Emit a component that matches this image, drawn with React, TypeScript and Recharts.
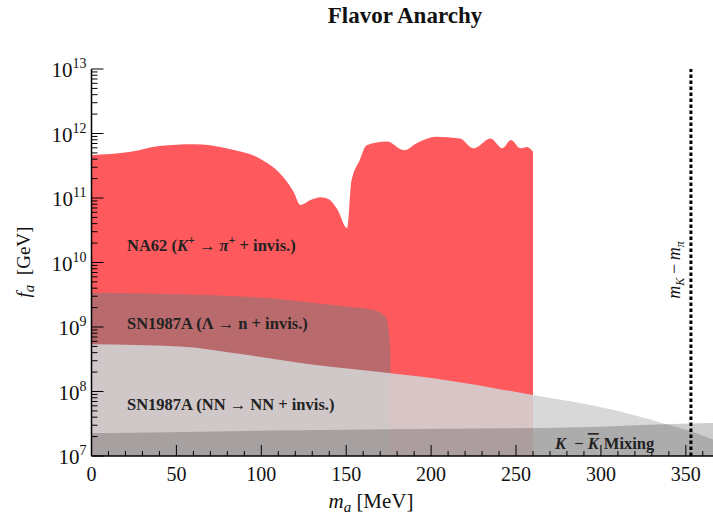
import React from "react"
import { ComposedChart, Area, XAxis, YAxis, ReferenceLine } from "recharts"

// NA62 (K+ -> pi+ + invis.) upper edge; mass in MeV, f_a in GeV
const na62Mass = [0, 23, 40, 60, 82, 99, 111, 119, 123, 129, 135, 140, 145, 150.5, 153, 158, 162, 174, 184, 192, 203, 217, 225, 235, 242, 247, 252.5, 256.5, 260]
const na62Fa = [4.6e11, 5.2e11, 6.4e11, 6.8e11, 5.7e11, 4.1e11, 2.4e11, 1.25e11, 7.8e10, 9.3e10, 1.03e11, 9.5e10, 6.5e10, 3.4e10, 1.8e11, 3.9e11, 6.6e11, 7.5e11, 5.5e11, 7.2e11, 8.9e11, 8.4e11, 5.9e11, 8.4e11, 5.9e11, 7.9e11, 5.9e11, 6.2e11, 5.2e11]

// SN1987A (Lambda -> n + invis.)
const lambdaMass = [0, 32, 72, 111, 131, 150, 166, 173, 175, 176]
const lambdaFa = [3.4e9, 3.3e9, 3.1e9, 2.7e9, 2.36e9, 2.07e9, 1.84e9, 1.45e9, 9e8, 4e8]

// SN1987A (NN -> NN + invis.)
const nnMass = [0, 52, 91, 131, 170, 209, 260, 307, 337, 351, 366]
const nnFa = [5.4e8, 5.0e8, 3.7e8, 2.6e8, 2.0e8, 1.5e8, 8.8e7, 5.2e7, 3.2e7, 2.5e7, 1.8e7]

// K - Kbar mixing
const mixMass = [0, 90, 176, 287, 353, 366]
const mixFa = [2.25e7, 2.45e7, 2.6e7, 2.8e7, 3.2e7, 3.25e7]

const mKminusMpi = 353

const xTicks = Array.from({ length: 37 }, (_, i) => i * 10)
const yTicks: number[] = []
for (let e = 7; e <= 12; e++) for (let k = 1; k <= 9; k++) yTicks.push(k * Math.pow(10, e))
yTicks.push(1e13)

// merge the separate curves into one table keyed by mass
const rows = new Map<number, any>()
function addSeries(key: string, xs: number[], ys: number[]) {
  xs.forEach((x, i) => {
    const r = rows.get(x) ?? { mass: x }
    r[key] = ys[i]
    rows.set(x, r)
  })
}
addSeries("na62", na62Mass, na62Fa)
addSeries("lambda", lambdaMass, lambdaFa)
addSeries("nn", nnMass, nnFa)
addSeries("mix", mixMass, mixFa)
const data = Array.from(rows.values()).sort((a, b) => a.mass - b.mass)

const font = "'Liberation Serif', 'Times New Roman', serif"

function YTick(props: any) {
  const { x, y, payload } = props
  const v = payload.value
  const e = Math.floor(Math.log10(v) + 1e-9)
  const major = Math.abs(v / Math.pow(10, e) - 1) < 1e-6
  return (
    <g>
      <line x1={x} x2={x + (major ? 12 : 6)} y1={y} y2={y} stroke="#000" strokeWidth={1} />
      {major && (
        <text x={x - 5} y={y + 8} textAnchor="end" fontFamily={font} fontSize={21} fill="#111">
          <tspan>10</tspan>
          <tspan dy={-9} fontSize={14}>{e}</tspan>
        </text>
      )}
    </g>
  )
}

function XTickBottom(props: any) {
  const { x, y, payload } = props
  const major = payload.value % 50 === 0
  return (
    <g>
      <line x1={x} x2={x} y1={y} y2={y - (major ? 11 : 5)} stroke="#000" strokeWidth={1} />
      {major && (
        <text x={x} y={y + 25} textAnchor="middle" fontFamily={font} fontSize={20} fill="#111">
          {payload.value}
        </text>
      )}
    </g>
  )
}

function XTickTop(props: any) {
  const { x, y, payload } = props
  const major = payload.value % 50 === 0
  return <line x1={x} x2={x} y1={y} y2={y + (major ? 9 : 5)} stroke="#000" strokeWidth={1} />
}

export default function App() {
  const labelStyle = { fontFamily: font, fontSize: 16.5, fontWeight: "bold" as const, fill: "#222" }
  return (
    <div style={{ position: "absolute", left: 0, top: 0, width: 713, height: 516, background: "#fff" }}>
      <ComposedChart width={713} height={516} data={data} margin={{ top: 69, right: 0, bottom: 0, left: 0 }}>
        <XAxis
          dataKey="mass"
          type="number"
          domain={[0, 366]}
          allowDataOverflow
          ticks={xTicks}
          interval={0}
          height={60}
          tickSize={0}
          tickMargin={0}
          tickLine={false}
          axisLine={{ stroke: "#000", strokeWidth: 1.5 }}
          tick={(p: any) => <XTickBottom {...p} />}
        />
        <XAxis
          xAxisId="top"
          orientation="top"
          dataKey="mass"
          type="number"
          domain={[0, 366]}
          allowDataOverflow
          ticks={xTicks}
          interval={0}
          height={0}
          tickSize={0}
          tickMargin={0}
          tickLine={false}
          axisLine={{ stroke: "#000", strokeWidth: 1.5 }}
          tick={(p: any) => <XTickTop {...p} />}
        />
        <YAxis
          type="number"
          scale="log"
          domain={[1e7, 1e13]}
          allowDataOverflow
          ticks={yTicks}
          interval={0}
          width={91.5}
          tickSize={0}
          tickMargin={0}
          tickLine={false}
          axisLine={{ stroke: "#000", strokeWidth: 1.5 }}
          tick={(p: any) => <YTick {...p} />}
        />
        <Area dataKey="na62" type="monotone" baseValue={1e7} connectNulls stroke="none" fill="#fe5a5e" fillOpacity={1} isAnimationActive={false} />
        <Area dataKey="lambda" type="monotone" baseValue={1e7} connectNulls stroke="none" fill="#787878" fillOpacity={0.52} isAnimationActive={false} />
        <Area dataKey="nn" type="monotone" baseValue={1e7} connectNulls stroke="none" fill="#d3d3d3" fillOpacity={0.89} isAnimationActive={false} />
        <Area dataKey="mix" type="monotone" baseValue={1e7} connectNulls stroke="none" fill="#000" fillOpacity={0.2} isAnimationActive={false} />
        <ReferenceLine x={mKminusMpi} stroke="#000" strokeWidth={3} strokeDasharray="3.5 2.5" />
      </ComposedChart>
      <svg width={713} height={516} style={{ position: "absolute", left: 0, top: 0, pointerEvents: "none" }}>
        <text x={405} y={23} textAnchor="middle" fontFamily={font} fontSize={23} fontWeight="bold" fill="#111">
          Flavor Anarchy
        </text>
        <text transform="translate(30,262) rotate(-90)" textAnchor="middle" fontFamily={font} fontSize={19} fill="#111">
          <tspan fontStyle="italic">f</tspan>
          <tspan fontStyle="italic" dy={4} fontSize={15}>a</tspan>
          <tspan dy={-4}>{"\u00a0\u00a0[GeV]"}</tspan>
        </text>
        <text x={371} y={508} textAnchor="middle" fontFamily={font} fontSize={21} fill="#111">
          <tspan fontStyle="italic">m</tspan>
          <tspan fontStyle="italic" dy={4} fontSize={15}>a</tspan>
          <tspan dy={-4}>{"\u00a0[MeV]"}</tspan>
        </text>
        <text transform="translate(680,270) rotate(-90)" textAnchor="middle" fontFamily={font} fontSize={18} fill="#111">
          <tspan fontStyle="italic">m</tspan>
          <tspan fontStyle="italic" dy={4} fontSize={12}>K</tspan>
          <tspan dy={-4}>{"\u2009\u2212\u2009"}</tspan>
          <tspan fontStyle="italic">m</tspan>
          <tspan fontStyle="italic" dy={4} fontSize={12}>π</tspan>
        </text>
        <text x={127} y={251} {...labelStyle}>
          <tspan>NA62 (</tspan>
          <tspan fontStyle="italic">K</tspan>
          <tspan dy={-7} fontSize={12}>+</tspan>
          <tspan dy={7}>{" \u2192 "}</tspan>
          <tspan fontStyle="italic">π</tspan>
          <tspan dy={-7} fontSize={12}>+</tspan>
          <tspan dy={7}>{" + invis.)"}</tspan>
        </text>
        <text x={127} y={329} {...labelStyle}>
          SN1987A (Λ → n + invis.)
        </text>
        <text x={127} y={410} {...labelStyle}>
          SN1987A (NN → NN + invis.)
        </text>
        <text x={555} y={449} {...labelStyle}>
          <tspan fontStyle="italic">K</tspan>
          <tspan>{"\u00a0\u00a0\u2212\u00a0"}</tspan>
          <tspan fontStyle="italic" style={{ textDecoration: "overline" }}>K</tspan>
          <tspan dx={5}>Mixing</tspan>
        </text>
      </svg>
    </div>
  )
}
